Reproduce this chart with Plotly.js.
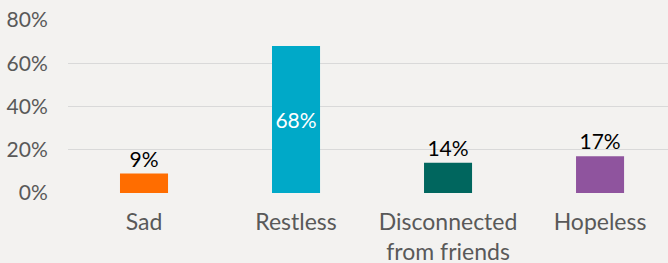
<!DOCTYPE html>
<html><head><meta charset="utf-8">
<script src="https://cdn.plot.ly/plotly-3.0.1.min.js"></script>
<style>html,body{margin:0;padding:0;background:#f3f2f0;}</style>
</head><body>
<div id="chart" style="width:668px;height:263px;"></div>
<script>
const categories = ["Sad", "Restless", "Disconnected<br>from friends", "Hopeless"];
const values = [9, 68, 14, 17];
const barColors = ["#ff6d00", "#00a9c8", "#00665e", "#8f549e"];
const labelColors = ["#000000", "#ffffff", "#000000", "#000000"];
const yTicks = [0, 20, 40, 60, 80];
const yTickLabels = ["0%", "20%", "40%", "60%", "80%"];

const trace = {
  type: "bar",
  x: categories,
  y: values,
  width: 0.316,
  marker: {color: barColors},
  text: values.map(v => v + "%"),
  textposition: values.map(v => v > 50 ? "inside" : "outside"),
  insidetextanchor: "middle",
  textfont: {family: "Lato, sans-serif", size: 21, color: labelColors},
  cliponaxis: false,
  hoverinfo: "none"
};

const layout = {
  width: 668, height: 263,
  margin: {l: 68, r: 0, t: 20, b: 70},
  paper_bgcolor: "#f3f2f0",
  plot_bgcolor: "#f3f2f0",
  showlegend: false,
  font: {family: "Lato, sans-serif", size: 21, color: "#595959"},
  xaxis: {
    range: [-0.5, 3.447],
    showgrid: false, zeroline: false, showline: false,
    ticks: "outside", ticklen: 8, tickcolor: "rgba(0,0,0,0)",
    tickfont: {family: "Lato, sans-serif", size: 23, color: "#595959"}
  },
  yaxis: {
    range: [0, 80],
    tickvals: yTicks, ticktext: yTickLabels,
    showgrid: true, gridcolor: "#d9d9d9", gridwidth: 1,
    zeroline: false, showline: false,
    ticks: "outside", ticklen: 15, tickcolor: "rgba(0,0,0,0)",
    tickfont: {family: "Lato, sans-serif", size: 21, color: "#595959"}
  },
  uniformtext: {mode: false}
};

Plotly.newPlot("chart", [trace], layout, {displayModeBar: false, staticPlot: true});
</script>
</body></html>
